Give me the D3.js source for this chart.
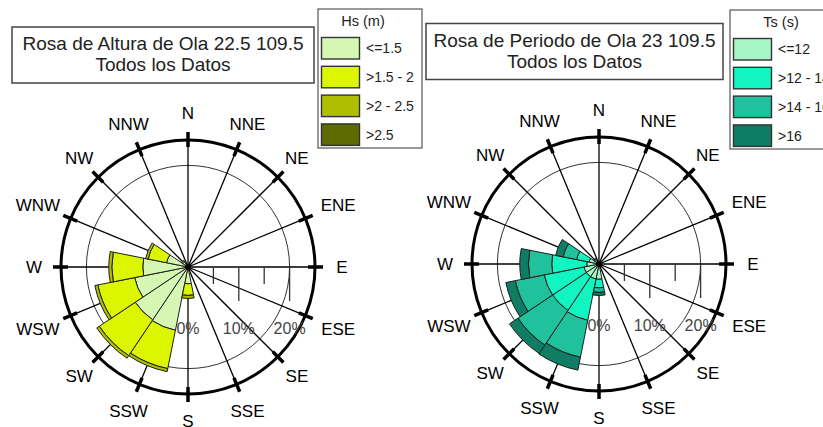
<!DOCTYPE html>
<html>
<head>
<meta charset="utf-8" />
<title>Rosas de Oleaje</title>
<script src="https://d3js.org/d3.v7.min.js"></script>
<style>
  body { margin: 0; background: #fff; }
  svg { display: block; font-family: "Liberation Sans", Arial, sans-serif; }
</style>
</head>
<body>
<div id="chart"></div>
<script>
// directions, clockwise from north
const dirs = ["N", "NNE", "NE", "ENE", "E", "ESE", "SE", "SSE", "S", "SSW", "SW", "WSW", "W", "WNW", "NW", "NNW"];

// left rose: wave height classes (% of records per direction)
const hsClasses = ["<=1.5", ">1.5 - 2", ">2 - 2.5", ">2.5"];
const hsColors = ["#d6f7b4", "#dcf500", "#afbf00", "#5c6b00"];
const hs1 = [0, 0, 0, 0, 0, 0, 0, 0.3, 3.3, 12.7, 12.5, 10.7, 8.9, 4.3, 1.2, 0.3];
const hs2 = [0, 0, 0, 0, 0, 0, 0, 0, 2.3, 7.7, 8.5, 7.4, 6.1, 3.7, 0.3, 0];
const hs3 = [0, 0, 0, 0, 0, 0, 0, 0, 0.6, 0.6, 0.6, 0.6, 0.6, 0.5, 0.1, 0];
const hs4 = [0, 0, 0, 0, 0, 0, 0, 0, 0, 0, 0, 0, 0, 0, 0, 0];

// right rose: wave period classes
const tsClasses = ["<=12", ">12 - 14", ">14 - 16", ">16"];
const tsColors = ["#a6f5c6", "#12f5c2", "#1fc29c", "#0f7d63"];
const ts1 = [0, 0, 0, 0, 0, 0, 0, 0.3, 3.0, 3.0, 3.0, 3.0, 2.4, 2.0, 0.5, 0.2];
const ts2 = [0, 0, 0, 0, 0, 0, 0, 0, 1.7, 8.3, 8.0, 8.0, 6.9, 2.5, 0.4, 0];
const ts3 = [0, 0, 0, 0, 0, 0, 0, 0, 0.9, 7.4, 8.2, 5.8, 4.6, 2.7, 0.3, 0];
const ts4 = [0, 0, 0, 0, 0, 0, 0, 0, 0.6, 2.6, 2.0, 1.9, 1.7, 1.5, 0.1, 0];

const scaleTicks = [5, 10, 15, 20];
const scaleLabels = [0, 10, 20];

const svg = d3.select("#chart").append("svg")
    .attr("width", 823)
    .attr("height", 427);

function drawRose(o) {
    const r = d3.scaleLinear().domain([0, 25]).range([0, 127]);
    const ang = i => i * Math.PI / 8;
    const g = svg.append("g").attr("transform", `translate(${o.cx},${o.cy})`);

    // title box
    svg.append("rect")
        .attr("x", o.title.x).attr("y", o.title.y)
        .attr("width", o.title.w).attr("height", o.title.h)
        .attr("fill", "#fff").attr("stroke", "#444").attr("stroke-width", 1.5);
    o.title.lines.forEach((t, k) => {
        svg.append("text")
            .attr("x", o.title.x + o.title.w / 2)
            .attr("y", o.title.y + 23 + k * 21)
            .attr("text-anchor", "middle")
            .attr("font-size", 19)
            .attr("fill", "#222")
            .text(t);
    });

    // legend
    const lg = svg.append("g").attr("transform", `translate(${o.legend.x},${o.legend.y})`);
    lg.append("rect")
        .attr("width", 104).attr("height", 139)
        .attr("fill", "#fff").attr("stroke", "#555").attr("stroke-width", 1.2);
    lg.append("text")
        .attr("x", o.legend.tx).attr("y", 17)
        .attr("text-anchor", "middle")
        .attr("font-size", 14.5)
        .attr("fill", "#222")
        .text(o.legend.title);
    o.classes.forEach((c, k) => {
        lg.append("rect")
            .attr("x", 3.5).attr("y", 28.5 + k * 28.8)
            .attr("width", 38).attr("height", 21.5)
            .attr("fill", o.colors[k])
            .attr("stroke", "#333").attr("stroke-width", 1.4);
        lg.append("text")
            .attr("x", 48).attr("y", 39.5 + k * 28.8)
            .attr("dy", "0.35em")
            .attr("font-size", 14)
            .attr("fill", "#222")
            .text(c);
    });

    // grid
    g.append("circle").attr("r", r(20))
        .attr("fill", "none").attr("stroke", "#333").attr("stroke-width", 1);

    g.selectAll(".spoke").data(dirs).join("line")
        .attr("x1", 0).attr("y1", 0)
        .attr("x2", (d, i) => r(25) * Math.sin(ang(i)))
        .attr("y2", (d, i) => -r(25) * Math.cos(ang(i)))
        .attr("stroke", "#000").attr("stroke-width", 1.3);

    g.append("circle").attr("r", r(25))
        .attr("fill", "none").attr("stroke", "#000").attr("stroke-width", 3);

    g.selectAll(".dtick").data(dirs).join("line")
        .attr("x1", (d, i) => (r(25) - 7) * Math.sin(ang(i)))
        .attr("y1", (d, i) => -(r(25) - 7) * Math.cos(ang(i)))
        .attr("x2", (d, i) => (r(25) + 8) * Math.sin(ang(i)))
        .attr("y2", (d, i) => -(r(25) + 8) * Math.cos(ang(i)))
        .attr("stroke", "#000").attr("stroke-width", 3.5);

    // percentage scale on the E axis
    g.selectAll(".stick").data(scaleTicks).join("line")
        .attr("x1", d => r(d)).attr("x2", d => r(d))
        .attr("y1", 0).attr("y2", d => d % 10 === 0 ? 34 : 17)
        .attr("stroke", "#333").attr("stroke-width", 1.3);

    g.selectAll(".slab").data(scaleLabels).join("text")
        .attr("x", d => r(d)).attr("y", 67)
        .attr("text-anchor", "middle")
        .attr("font-size", 16)
        .attr("fill", "#444")
        .text(d => d + "%");

    // stacked bars
    const rows = dirs.map((d, i) => {
        const row = { dir: d, i: i };
        o.classes.forEach((c, k) => { row[c] = o.series[k][i]; });
        return row;
    });
    const stacked = d3.stack().keys(o.classes)(rows);
    const arc = d3.arc()
        .innerRadius(d => r(d[0]))
        .outerRadius(d => r(d[1]))
        .startAngle(d => ang(d.data.i) - Math.PI / 16)
        .endAngle(d => ang(d.data.i) + Math.PI / 16);

    g.append("g").selectAll("g").data(stacked).join("g")
        .attr("fill", (d, k) => o.colors[k])
        .selectAll("path")
        .data(d => d.filter(v => v[1] - v[0] > 0))
        .join("path")
        .attr("d", arc)
        .attr("stroke", "#1e1e1e")
        .attr("stroke-width", 1)
        .attr("stroke-linejoin", "round");

    g.append("circle").attr("r", 3).attr("fill", "#000");

    // direction labels
    g.selectAll(".dlab").data(dirs).join("text")
        .attr("x", (d, i) => {
            const s = Math.sin(ang(i));
            const rr = 154 + (d.length === 3 ? 10 * s * s : 0);
            return rr * s;
        })
        .attr("y", (d, i) => {
            const s = Math.sin(ang(i));
            const rr = 154 + (d.length === 3 ? 10 * s * s : 0);
            return -rr * Math.cos(ang(i));
        })
        .attr("dy", "0.36em")
        .attr("text-anchor", "middle")
        .attr("font-size", 17)
        .attr("fill", "#000")
        .text(d => d);
}

drawRose({
    cx: 188, cy: 267,
    classes: hsClasses, colors: hsColors, series: [hs1, hs2, hs3, hs4],
    title: { x: 12, y: 27, w: 302, h: 56, lines: ["Rosa de Altura de Ola 22.5 109.5", "Todos los Datos"] },
    legend: { x: 318, y: 9, tx: 45, title: "Hs (m)" }
});

drawRose({
    cx: 599, cy: 264,
    classes: tsClasses, colors: tsColors, series: [ts1, ts2, ts3, ts4],
    title: { x: 426, y: 23.5, w: 297, h: 56, lines: ["Rosa de Periodo de Ola 23 109.5", "Todos los Datos"] },
    legend: { x: 730, y: 10, tx: 51, title: "Ts (s)" }
});
</script>
</body>
</html>
